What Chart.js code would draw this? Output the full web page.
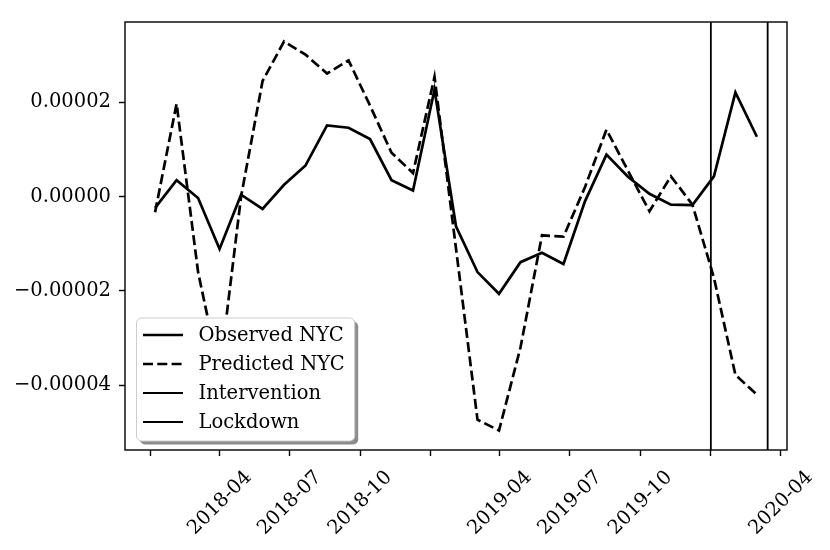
<!DOCTYPE html>
<html>
<head>
<meta charset="utf-8">
<script src="https://cdn.jsdelivr.net/npm/chart.js@4.4.1/dist/chart.umd.min.js"></script>
<style>
  html, body { margin: 0; padding: 0; background: #fff; }
  #wrap { width: 830px; height: 550px; }
</style>
</head>
<body>
<div id="wrap"><canvas id="nycChart" width="830" height="550"></canvas></div>
<script>
const dates = [
    '2018-01-07', '2018-02-04', '2018-03-04', '2018-04-01', '2018-04-29', '2018-05-27',
    '2018-06-24', '2018-07-22', '2018-08-19', '2018-09-16', '2018-10-14', '2018-11-11',
    '2018-12-09', '2019-01-06', '2019-02-03', '2019-03-03', '2019-03-31', '2019-04-28',
    '2019-05-26', '2019-06-23', '2019-07-21', '2019-08-18', '2019-09-15', '2019-10-13',
    '2019-11-10', '2019-12-08', '2020-01-05', '2020-02-02', '2020-03-01'
];
const observedNYC = [
    -2.4e-6, 3.5e-6, -0.3e-6, -11.1e-6, 0.4e-6, -2.6e-6,
    2.5e-6, 6.6e-6, 15.1e-6, 14.6e-6, 12.2e-6, 3.5e-6,
    1.3e-6, 22.7e-6, -6.3e-6, -16.0e-6, -20.6e-6, -13.9e-6,
    -11.9e-6, -14.3e-6, -1.0e-6, 8.9e-6, 4.2e-6, 0.6e-6,
    -1.7e-6, -1.8e-6, 4.3e-6, 22.1e-6, 12.7e-6
];
const predictedNYC = [
    -3.3e-6, 19.7e-6, -16.0e-6, -37.5e-6, 0.0, 24.5e-6,
    32.9e-6, 30.1e-6, 26.1e-6, 28.9e-6, 19.3e-6, 9.3e-6,
    5.0e-6, 25.4e-6, -11.0e-6, -47.3e-6, -49.6e-6, -32.0e-6,
    -8.2e-6, -8.5e-6, 2.0e-6, 14.2e-6, 5.5e-6, -3.1e-6,
    4.3e-6, -1.7e-6, -17.2e-6, -37.8e-6, -42.0e-6
];
const eventNames = ['Intervention', 'Lockdown'];
const eventDates = ['2020-01-01', '2020-03-15'];
const tickDates = [
    '2018-01-01', '2018-04-01', '2018-07-01', '2018-10-01', '2019-01-01',
    '2019-04-01', '2019-07-01', '2019-10-01', '2020-01-01', '2020-04-01'
];
const tickLabels = ['', '2018-04', '2018-07', '2018-10', '', '2019-04', '2019-07', '2019-10', '', '2020-04'];
const yTicks = [-4e-5, -2e-5, 0, 2e-5];

document.addEventListener('DOMContentLoaded', function () {
    const ctx = document.getElementById('nycChart').getContext('2d');
    const FONT = '"DejaVu Serif", "Liberation Serif", serif';
    const FONT_SIZE = 19.5;

    const xs = dates.map(d => Date.parse(d));
    const xSpan = xs[xs.length - 1] - xs[0];
    const xMin = xs[0] - 0.05 * xSpan;
    const xMax = xs[xs.length - 1] + 0.05 * xSpan;

    const allY = observedNYC.concat(predictedNYC);
    const yLo = Math.min(...allY), yHi = Math.max(...allY);
    const yMin = yLo - 0.05 * (yHi - yLo);
    const yMax = yHi + 0.05 * (yHi - yLo);

    const toPoints = vals => vals.map((v, i) => ({ x: xs[i], y: v }));

    const datasets = [
        {
            label: 'Observed NYC',
            data: toPoints(observedNYC),
            borderColor: '#000',
            borderWidth: 2.7,
            pointRadius: 0
        },
        {
            label: 'Predicted NYC',
            data: toPoints(predictedNYC),
            borderColor: '#000',
            borderWidth: 2.7,
            borderDash: [10, 4.3],
            pointRadius: 0
        }
    ];
    eventNames.forEach((name, i) => {
        const t = Date.parse(eventDates[i]);
        datasets.push({
            label: name,
            data: [{ x: t, y: yMin }, { x: t, y: yMax }],
            borderColor: '#000',
            borderWidth: 1.8,
            pointRadius: 0
        });
    });

    // matplotlib style legend box with a drop shadow, lower left
    const boxLegend = {
        id: 'boxLegend',
        afterDatasetsDraw(chart) {
            const c = chart.ctx;
            const area = chart.chartArea;
            const items = chart.data.datasets;
            c.save();
            c.font = FONT_SIZE + 'px ' + FONT;
            const textW = Math.max(...items.map(d => c.measureText(d.label).width));
            const rowH = 29;
            const w = 62 + textW + 10;
            const h = rowH * items.length + 7;
            const x = area.left + 11.5;
            const y = area.bottom - 9 - h;

            c.fillStyle = 'rgba(0,0,0,0.45)';
            c.beginPath();
            c.roundRect(x + 3.5, y + 3.5, w, h, 5);
            c.fill();
            c.fillStyle = '#fff';
            c.strokeStyle = '#cccccc';
            c.lineWidth = 1;
            c.beginPath();
            c.roundRect(x, y, w, h, 5);
            c.fill();
            c.stroke();

            items.forEach((d, i) => {
                const cy = y + 17 + rowH * i;
                c.strokeStyle = d.borderColor;
                c.lineWidth = d.borderWidth;
                c.setLineDash(d.borderDash || []);
                c.beginPath();
                c.moveTo(x + 6.5, cy);
                c.lineTo(x + 46.5, cy);
                c.stroke();
                c.setLineDash([]);
                c.fillStyle = '#000';
                c.textBaseline = 'middle';
                c.textAlign = 'left';
                c.fillText(d.label, x + 62, cy + 1);
            });
            c.restore();
        }
    };

    const frame = {
        id: 'frame',
        afterDraw(chart) {
            const c = chart.ctx;
            const a = chart.chartArea;
            c.save();
            c.strokeStyle = '#000';
            c.lineWidth = 1.4;
            c.strokeRect(a.left, a.top, a.right - a.left, a.bottom - a.top);
            c.restore();
        }
    };

    Chart.defaults.font.family = FONT;
    Chart.defaults.font.size = FONT_SIZE;
    Chart.defaults.color = '#000';

    new Chart(ctx, {
        type: 'line',
        data: { datasets: datasets },
        options: {
            responsive: false,
            animation: false,
            devicePixelRatio: 1,
            layout: { padding: { top: 22, right: 43, left: 0, bottom: 0 } },
            plugins: {
                legend: { display: false },
                tooltip: { enabled: false }
            },
            scales: {
                x: {
                    type: 'linear',
                    min: xMin,
                    max: xMax,
                    afterBuildTicks: function (scale) {
                        scale.ticks = tickDates.map(d => ({ value: Date.parse(d) }));
                    },
                    afterFit: function (scale) { scale.height = 100; },
                    grid: { drawOnChartArea: false, tickLength: 6, tickColor: '#000', tickWidth: 1.4 },
                    border: { display: false },
                    ticks: {
                        autoSkip: false,
                        maxRotation: 45,
                        minRotation: 45,
                        labelOffset: 29,
                        padding: 10,
                        callback: function (value, index) { return tickLabels[index]; }
                    }
                },
                y: {
                    type: 'linear',
                    min: yMin,
                    max: yMax,
                    afterBuildTicks: function (scale) {
                        scale.ticks = yTicks.map(v => ({ value: v }));
                    },
                    afterFit: function (scale) { scale.width = 125; },
                    grid: { drawOnChartArea: false, tickLength: 6, tickColor: '#000', tickWidth: 1.4 },
                    border: { display: false },
                    ticks: {
                        padding: 8,
                        callback: function (value) {
                            return value.toFixed(5).replace('-', '\u2212');
                        }
                    }
                }
            }
        },
        plugins: [boxLegend, frame]
    });
});
</script>
</body>
</html>
